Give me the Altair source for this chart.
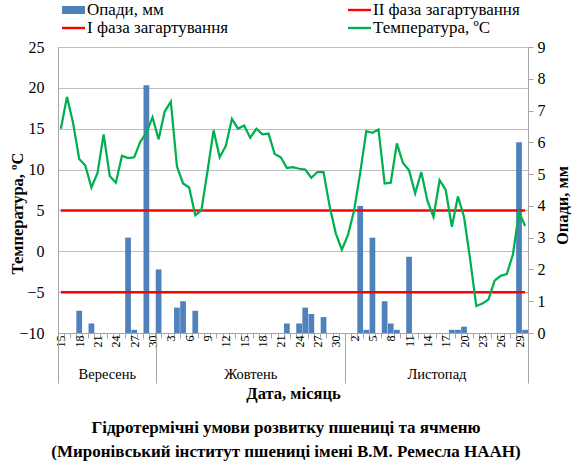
import json
import altair as alt
import pandas as pd

FONT = "Times New Roman, Liberation Serif, DejaVu Serif, serif"

# ---- categories ----
sep_days = list(range(15, 31))
oct_days = list(range(1, 32))
nov_days = list(range(1, 31))
months = ["Вересень", "Жовтень", "Листопад"]

# ---- temperature, degC ----
temp_sep = [15.0, 18.9, 15.7, 11.3, 10.5, 7.8, 9.6, 14.3, 9.2, 8.4, 11.7, 11.4, 11.5, 13.4, 14.5, 16.4]
temp_oct = [13.7, 17.1, 18.3, 10.4, 8.3, 7.8, 4.4, 5.0, 9.8, 14.8, 11.5, 12.9, 16.2, 15.0, 15.4, 13.9,
            15.0, 14.3, 14.4, 11.9, 11.5, 10.2, 10.3, 10.1, 10.0, 9.0, 9.7, 9.7, 5.5, 2.2, 0.2]
temp_nov = [2.0, 5.0, 9.6, 14.7, 14.5, 14.9, 8.3, 8.4, 13.2, 10.8, 9.9, 7.1, 9.7, 6.2, 4.2, 8.7,
            7.5, 3.0, 6.7, 4.2, -1.0, -6.7, -6.4, -5.9, -3.6, -3.0, -2.8, -0.4, 4.8, 3.1]

# ---- precipitation, mm ----
rain_sep = [0, 0, 0, 0.7, 0, 0.3, 0, 0, 0, 0, 0, 3.0, 0.1, 0, 7.8, 0]
rain_oct = [2.0, 0, 0, 0.8, 1.0, 0, 0.7, 0, 0, 0, 0, 0, 0, 0, 0, 0,
            0, 0, 0, 0, 0, 0.3, 0, 0.3, 0.8, 0.6, 0, 0.5, 0, 0, 0]
rain_nov = [0, 0, 4.0, 0.1, 3.0, 0, 1.0, 0.3, 0.1, 0, 2.4, 0, 0, 0, 0, 0,
            0, 0.1, 0.1, 0.2, 0, 0, 0, 0, 0, 0, 0, 0, 6.0, 0.1]

# ---- hardening phase thresholds, degC ----
phase_names = ["I фаза загартування", "II фаза загартування"]
phase_temps = [5, -5]

rain_label = "Опади, мм"
temp_label = "Температура, ºC"
# legend entries are laid out column by column
series_order = ["Опади, мм", "I фаза загартування", "II фаза загартування", "Температура, ºC"]
series_colors = ["#4F81BD", "#FF0000", "#FF0000", "#00B050"]
RECT = "M-1.15,-0.4H1.15V0.4H-1.15Z"
LINE = "M-1.15,-0.12H1.15V0.12H-1.15Z"
series_shapes = [RECT, LINE, LINE, LINE]

days = sep_days + oct_days + nov_days
temps = temp_sep + temp_oct + temp_nov
rain = rain_sep + rain_oct + rain_nov
n = len(days)
idx = list(range(n))

rain_df = pd.DataFrame({"i": idx, "rain": rain, "series": rain_label})
rain_df = rain_df[rain_df["rain"] > 0]
temp_df = pd.DataFrame({"i": idx, "temp": temps, "series": temp_label})
thr_df = pd.DataFrame([{"i": i, "temp": t, "series": nm}
                       for nm, t in zip(phase_names, phase_temps) for i in (0, n - 1)])
legend_df = pd.DataFrame({"series": series_order})

lengths = [len(sep_days), len(oct_days), len(nov_days)]
bounds = [0]
for L in lengths:
    bounds.append(bounds[-1] + L)
mids = [(bounds[k] + bounds[k + 1]) / 2 for k in range(len(months))]
month_df = pd.DataFrame({"mid": mids, "month": months})

GRID = "#BFBFBF"
AXIS = "#A6A6A6"

color_scale = alt.Scale(domain=series_order, range=series_colors)
shape_scale = alt.Scale(domain=series_order, range=series_shapes)
legend = alt.Legend(
    title=None, orient="none", legendX=5.5, legendY=-47, columns=2, columnPadding=119,
    rowPadding=0, padding=0, labelFont=FONT, labelFontSize=17, labelColor="black",
    symbolSize=400, labelOffset=3.5, labelLimit=300, symbolOpacity=1, symbolStrokeWidth=0,
)

day_expr = "datum.value % 3 === 0 ? " + json.dumps([str(d) for d in days]) + "[datum.value] : ''"
x_main = alt.X(
    "i:O",
    scale=alt.Scale(paddingInner=0.06, paddingOuter=0),
    axis=alt.Axis(
        title=None, labelExpr=day_expr, labelAngle=270, labelAlign="right", labelBaseline="middle",
        labelFont=FONT, labelFontSize=12, labelColor="black", labelPadding=-3, labelOverlap=False,
        tickBand="extent", tickSize=5, tickColor=AXIS, domainColor=AXIS, grid=False,
    ),
)

y_temp = alt.Y(
    "temp:Q",
    scale=alt.Scale(domain=[-10, 25], nice=False, zero=False),
    axis=alt.Axis(
        orient="left", values=list(range(-10, 26, 5)), grid=True, gridColor=GRID, domainColor=AXIS,
        ticks=False, labelPadding=14, labelFont=FONT, labelFontSize=16, labelColor="black",
        title="Температура, ºC", titleFont=FONT, titleFontSize=16.5, titleFontWeight="bold",
        titleColor="black", titleAngle=270, titleX=-41, titleY=166, titleBaseline="middle",
        titleAlign="center",
    ),
)

color_enc = alt.Color("series:N", scale=color_scale, legend=legend)

legend_pts = alt.Chart(legend_df).mark_point(filled=True, opacity=0).encode(
    color=color_enc,
    shape=alt.Shape("series:N", scale=shape_scale, legend=legend),
)

bars = alt.Chart(rain_df).mark_bar().encode(
    x=x_main,
    y=alt.Y(
        "rain:Q",
        scale=alt.Scale(domain=[0, 9], nice=False),
        axis=alt.Axis(
            orient="right", values=list(range(0, 10)), grid=False, domainColor=AXIS, tickColor=AXIS,
            tickSize=5, labelPadding=4, labelFont=FONT, labelFontSize=16, labelColor="black",
            title="Опади, мм", titleFont=FONT, titleFontSize=16.5, titleFontWeight="bold",
            titleColor="black", titleAngle=270, titleX=34, titleY=158, titleBaseline="middle",
            titleAlign="center",
        ),
    ),
    color=color_enc,
)

thr = alt.Chart(thr_df).mark_line(strokeWidth=2.5).encode(x=x_main, y=y_temp, color=color_enc)
temp_line = alt.Chart(temp_df).mark_line(strokeWidth=2.25).encode(x=x_main, y=y_temp, color=color_enc)

main = alt.layer(legend_pts, bars, alt.layer(thr, temp_line)).resolve_scale(y="independent")

mid_test = " || ".join(f"datum.value === {m}" for m in mids)
month_expr = " : ".join(f"datum.value === {m} ? '{nm}'" for m, nm in zip(mids, months)) + " : ''"
month_layer = alt.Chart(month_df).mark_point(opacity=0).encode(
    x=alt.X(
        "mid:Q",
        scale=alt.Scale(domain=[bounds[0], bounds[-1]], nice=False, zero=False),
        axis=alt.Axis(
            orient="bottom", values=sorted(bounds + mids), labelExpr=month_expr, grid=False,
            domain=False, tickSize=50, tickColor=AXIS,
            tickOpacity={"condition": {"test": mid_test, "value": 0}, "value": 1},
            labelFont=FONT, labelFontSize=14.5, labelColor="black", labelPadding=-9,
            labelBaseline="middle", labelOverlap=False, labelFlush=False, labelBound=False,
            title="Дата, місяць", titleFont=FONT, titleFontSize=16.5, titleFontWeight="bold",
            titleColor="black", titleY=60, titleBaseline="middle",
        ),
    ),
)

chart = alt.layer(main, month_layer).resolve_scale(x="independent").properties(
    width=470, height=286,
    autosize=alt.AutoSizeParams(type="none"),
    padding={"left": 58, "top": 47, "right": 44, "bottom": 132},
    title=alt.TitleParams(
        text=["Гідротермічні умови розвитку пшениці та ячменю",
              "(Миронівський інститут пшениці імені В.М. Ремесла НААН)"],
        orient="bottom", anchor="middle", frame="group", dx=-7, font=FONT, fontSize=17,
        fontWeight="bold", color="black", lineHeight=24.5, offset=18,
    ),
).configure_view(strokeWidth=0).configure(background="white")

chart.save("out.html", embed_options={"renderer": "svg", "actions": False})
